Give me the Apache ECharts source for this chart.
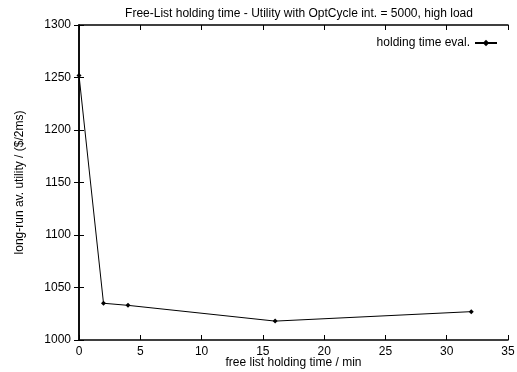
<!DOCTYPE html>
<html>
<head>
<meta charset="utf-8">
<script src="https://cdn.jsdelivr.net/npm/echarts@6/dist/echarts.min.js"></script>
<style>
  html, body { margin: 0; padding: 0; background: #fff; }
  #chart { width: 517px; height: 372px; }
</style>
</head>
<body>
<div id="chart"></div>
<script>
// holding time (min) vs long-run average utility
const holdingTimes = [0, 2, 4, 16, 32];
const utilityValues = [1252, 1035, 1033, 1018, 1027];
const seriesName = "holding time eval.";

const font = "Liberation Sans, Arial, Helvetica, sans-serif";
const points = holdingTimes.map((t, i) => [t, utilityValues[i]]);

const tickStyle = { inside: true, length: 5, lineStyle: { color: "#000", width: 1 } };
const lineStyle = { color: "#000", width: 1.5 };

const option = {
  animation: false,
  title: {
    text: "Free-List holding time - Utility with OptCycle int. = 5000, high load",
    left: 294,
    textAlign: "center",
    top: 3,
    textStyle: { fontFamily: font, fontSize: 12, fontWeight: "normal", color: "#000" },
  },
  legend: {
    right: 14,
    top: 32,
    align: "right",
    itemWidth: 22,
    itemHeight: 8,
    textStyle: { fontFamily: font, fontSize: 12, color: "#000" },
    data: [seriesName],
  },
  grid: { left: 79, right: 9, top: 25, bottom: 32, outerBoundsMode: "none", containLabel: false },
  xAxis: [
    {
      type: "value",
      min: 0,
      max: 35,
      interval: 5,
      name: "free list holding time / min",
      nameLocation: "middle",
      nameGap: 17,
      nameMoveOverlap: false,
      nameTextStyle: { fontFamily: font, fontSize: 12, color: "#000" },
      axisLine: { lineStyle: lineStyle },
      axisTick: tickStyle,
      axisLabel: { fontFamily: font, fontSize: 12, color: "#000", margin: 6 },
      splitLine: { show: false },
    },
    {
      type: "value",
      position: "top",
      min: 0,
      max: 35,
      interval: 5,
      axisLine: { show: true, lineStyle: lineStyle },
      axisTick: tickStyle,
      axisLabel: { show: false },
      splitLine: { show: false },
    },
  ],
  yAxis: [
    {
      type: "value",
      min: 1000,
      max: 1300,
      interval: 50,
      name: "long-run av. utility / ($/2ms)",
      nameLocation: "middle",
      nameGap: 53,
      nameMoveOverlap: false,
      nameTextStyle: { fontFamily: font, fontSize: 12, color: "#000" },
      axisLine: { show: true, lineStyle: lineStyle },
      axisTick: tickStyle,
      axisLabel: { fontFamily: font, fontSize: 12, color: "#000", margin: 8, formatter: (v) => String(v) },
      splitLine: { show: false },
    },
    {
      type: "value",
      position: "right",
      min: 1000,
      max: 1300,
      interval: 50,
      axisLine: { show: true, lineStyle: lineStyle },
      axisTick: tickStyle,
      axisLabel: { show: false },
      splitLine: { show: false },
    },
  ],
  series: [
    {
      name: seriesName,
      type: "line",
      data: points,
      symbol: "diamond",
      symbolSize: 5,
      lineStyle: { color: "#000", width: 1 },
      itemStyle: { color: "#000" },
    },
  ],
};

const myChart = echarts.init(document.getElementById("chart"), null, { renderer: "canvas" });
myChart.setOption(option);
</script>
</body>
</html>
